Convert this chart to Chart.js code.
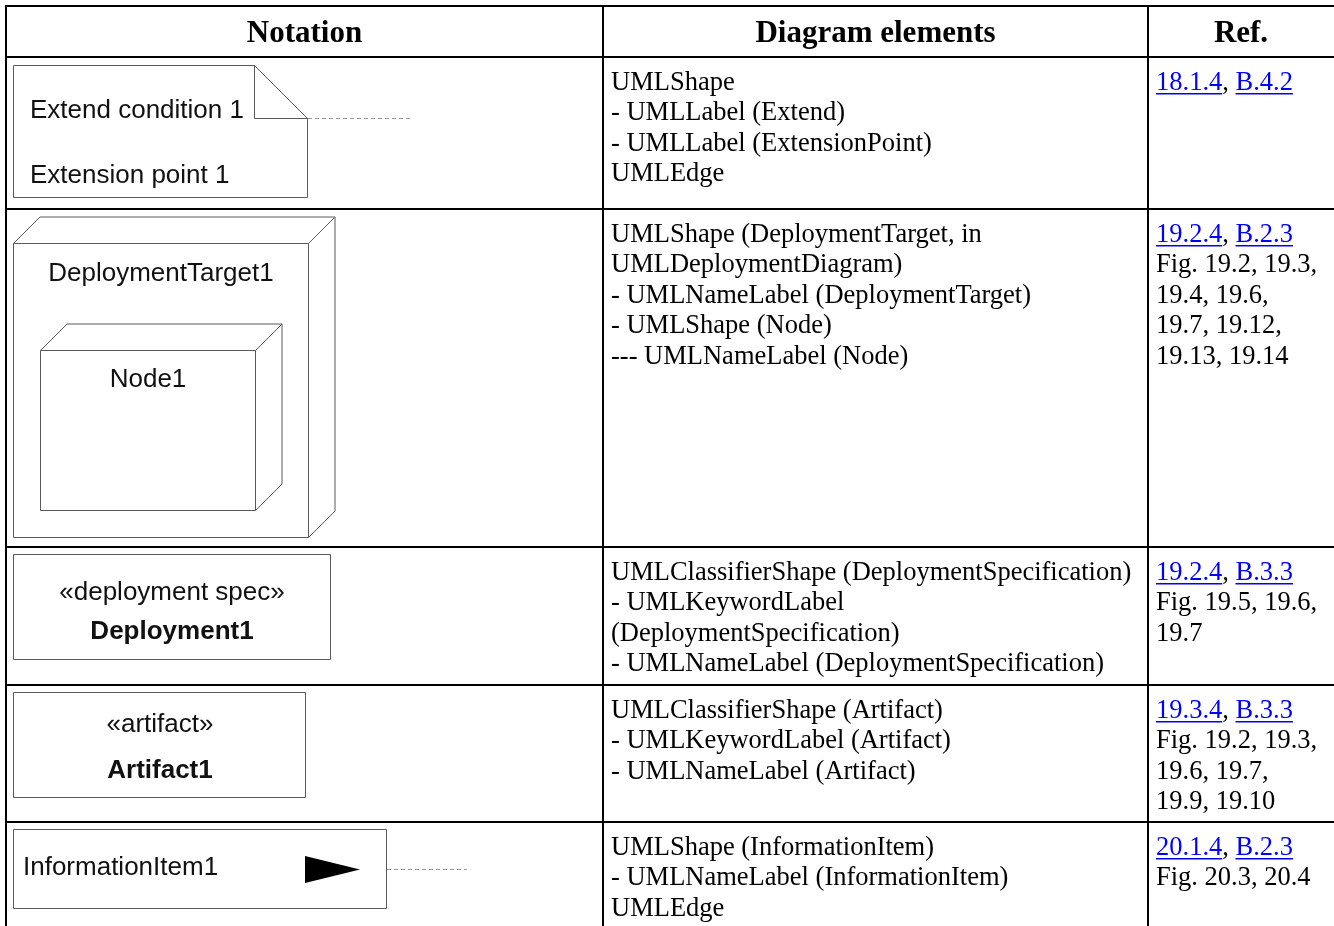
<!DOCTYPE html>
<html>
<head>
<meta charset="utf-8">
<title>UML notation table</title>
<script src="https://cdn.jsdelivr.net/npm/chart.js@4.4.0/dist/chart.umd.min.js"></script>
<style>
  html, body { margin: 0; padding: 0; background: #fff; }
  #wrap { width: 1334px; height: 926px; }
</style>
</head>
<body>
<div id="wrap"><canvas id="umlTable" width="1334" height="926"></canvas></div>
<script>
'use strict';

// ---- table content ----
const headers = ['Notation', 'Diagram elements', 'Ref.'];

const elementLines = [
  ['UMLShape', '- UMLLabel (Extend)', '- UMLLabel (ExtensionPoint)', 'UMLEdge'],
  ['UMLShape (DeploymentTarget, in', 'UMLDeploymentDiagram)', '- UMLNameLabel (DeploymentTarget)', '- UMLShape (Node)', '--- UMLNameLabel (Node)'],
  ['UMLClassifierShape (DeploymentSpecification)', '- UMLKeywordLabel', '(DeploymentSpecification)', '- UMLNameLabel (DeploymentSpecification)'],
  ['UMLClassifierShape (Artifact)', '- UMLKeywordLabel (Artifact)', '- UMLNameLabel (Artifact)'],
  ['UMLShape (InformationItem)', '- UMLNameLabel (InformationItem)', 'UMLEdge']
];

const refLinks = [
  ['18.1.4', 'B.4.2'],
  ['19.2.4', 'B.2.3'],
  ['19.2.4', 'B.3.3'],
  ['19.3.4', 'B.3.3'],
  ['20.1.4', 'B.2.3']
];

const figLines = [
  [],
  ['Fig. 19.2, 19.3,', '19.4, 19.6,', '19.7, 19.12,', '19.13, 19.14'],
  ['Fig. 19.5, 19.6,', '19.7'],
  ['Fig. 19.2, 19.3,', '19.6, 19.7,', '19.9, 19.10'],
  ['Fig. 20.3, 20.4']
];

// labels inside the notation drawings
const extendLabels = ['Extend condition 1', 'Extension point 1'];
const nodeLabels = ['DeploymentTarget1', 'Node1'];
const specLabels = ['\u00abdeployment spec\u00bb', 'Deployment1'];
const artifactLabels = ['\u00abartifact\u00bb', 'Artifact1'];
const infoLabel = 'InformationItem1';

// ---- layout ----
const W = 1334, H = 926;
const colEdges = [6, 603, 1148, 1334];
const rowEdges = [6, 57, 209, 547, 685, 822, 940];
const SERIF = '"Liberation Serif", "Times New Roman", serif';
const SANS = '"Liberation Sans", Arial, sans-serif';
const LINE_H = 30.4;
const SHAPE_STROKE = '#5a5a5a';

const tablePlugin = {
  id: 'umlTable',
  afterDraw(chart) {
    const c = chart.ctx;
    const xs = chart.scales.x, ys = chart.scales.y;
    const px = v => xs.getPixelForValue(v);
    const py = v => ys.getPixelForValue(v);

    c.save();
    c.fillStyle = '#fff';
    c.fillRect(0, 0, W, H);

    // grid
    c.strokeStyle = '#000';
    c.lineWidth = 2;
    c.beginPath();
    rowEdges.slice(0, -1).forEach(r => { c.moveTo(px(colEdges[0]) - 1, py(r)); c.lineTo(px(W + 2), py(r)); });
    colEdges.slice(0, -1).forEach(col => { c.moveTo(px(col), py(rowEdges[0]) - 1); c.lineTo(px(col), py(H + 2)); });
    c.stroke();

    // headers
    c.fillStyle = '#000';
    c.font = 'bold 31px ' + SERIF;
    c.textAlign = 'center';
    c.textBaseline = 'alphabetic';
    headers.forEach((h, i) => {
      c.fillText(h, px((colEdges[i] + colEdges[i + 1]) / 2), py(42));
    });

    // body text
    c.font = '26.5px ' + SERIF;
    c.textAlign = 'left';
    elementLines.forEach((lines, r) => {
      const top = rowEdges[r + 1];
      lines.forEach((t, k) => c.fillText(t, px(colEdges[1] + 8), py(top + 33 + k * LINE_H)));
    });

    refLinks.forEach((links, r) => {
      const top = rowEdges[r + 1];
      const base = py(top + 33);
      let x = px(colEdges[2] + 8);
      links.forEach((l, k) => {
        if (k > 0) {
          c.fillStyle = '#000';
          c.fillText(', ', x, base);
          x += c.measureText(', ').width;
        }
        c.fillStyle = '#0000ff';
        c.fillText(l, x, base);
        const w = c.measureText(l).width;
        c.fillRect(x, base + 3, w, 1.5);
        x += w;
      });
      c.fillStyle = '#000';
      figLines[r].forEach((t, k) => c.fillText(t, px(colEdges[2] + 8), py(top + 33 + (k + 1) * LINE_H)));
    });

    // notation drawings
    c.strokeStyle = SHAPE_STROKE;
    c.lineWidth = 1;
    const seg = pts => {
      c.beginPath();
      pts.forEach((p, i) => (i ? c.lineTo(px(p[0]), py(p[1])) : c.moveTo(px(p[0]), py(p[1]))));
      c.stroke();
    };
    const dashed = (x0, x1, y) => {
      c.save();
      c.strokeStyle = '#999';
      c.setLineDash([4, 3]);
      seg([[x0, y], [x1, y]]);
      c.restore();
    };

    // row 1: note with folded corner
    seg([[254.5, 65.5], [13.5, 65.5], [13.5, 197.5], [307.5, 197.5], [307.5, 118.5], [254.5, 65.5], [254.5, 118.5], [307.5, 118.5]]);
    dashed(308, 413, 118.5);
    c.fillStyle = '#111';
    c.font = '26px ' + SANS;
    c.textAlign = 'left';
    c.textBaseline = 'middle';
    c.fillText(extendLabels[0], px(30), py(111));
    c.fillText(extendLabels[1], px(30), py(176));

    // row 2: nested 3D nodes
    const box3d = (l, t, r, b, d) => {
      seg([[l, t], [r, t], [r, b], [l, b], [l, t]]);
      seg([[l, t], [l + d, t - d], [r + d, t - d], [r + d, b - d], [r, b]]);
      seg([[r, t], [r + d, t - d]]);
    };
    box3d(13.5, 243.5, 308.5, 537.5, 26.5);
    box3d(40.5, 350.5, 255.5, 510.5, 26.5);
    c.textAlign = 'center';
    c.fillText(nodeLabels[0], px(161), py(274));
    c.fillText(nodeLabels[1], px(148), py(380));

    // row 3: deployment spec
    seg([[13.5, 554.5], [330.5, 554.5], [330.5, 659.5], [13.5, 659.5], [13.5, 554.5]]);
    c.fillText(specLabels[0], px(172), py(593));
    c.font = 'bold 26px ' + SANS;
    c.fillText(specLabels[1], px(172), py(632));

    // row 4: artifact
    c.font = '26px ' + SANS;
    seg([[13.5, 692.5], [305.5, 692.5], [305.5, 797.5], [13.5, 797.5], [13.5, 692.5]]);
    c.fillText(artifactLabels[0], px(160), py(725));
    c.font = 'bold 26px ' + SANS;
    c.fillText(artifactLabels[1], px(160), py(771));

    // row 5: information item
    c.font = '26px ' + SANS;
    seg([[13.5, 829.5], [386.5, 829.5], [386.5, 908.5], [13.5, 908.5], [13.5, 829.5]]);
    c.textAlign = 'left';
    c.fillText(infoLabel, px(23), py(868));
    c.fillStyle = '#000';
    c.beginPath();
    c.moveTo(px(305), py(856));
    c.lineTo(px(360), py(869.5));
    c.lineTo(px(305), py(883));
    c.closePath();
    c.fill();
    dashed(387, 467, 869.5);

    c.restore();
  }
};

new Chart(document.getElementById('umlTable'), {
  type: 'scatter',
  data: { datasets: [] },
  options: {
    responsive: false,
    animation: false,
    layout: { padding: 0 },
    plugins: { legend: { display: false }, tooltip: { enabled: false } },
    scales: {
      x: { type: 'linear', min: 0, max: W, display: false },
      y: { type: 'linear', min: 0, max: H, reverse: true, display: false }
    }
  },
  plugins: [tablePlugin]
});
</script>
</body>
</html>
